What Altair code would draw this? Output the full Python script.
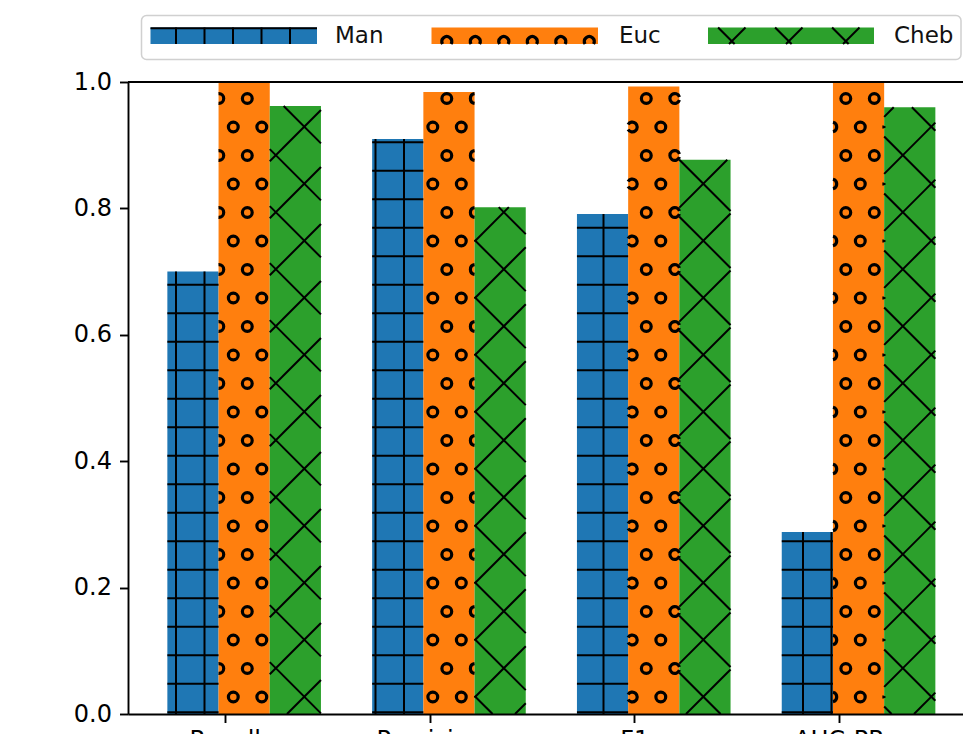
import math
import altair as alt
import pandas as pd

# ---------------- data ----------------
metrics = ["Recall", "Precision", "F1", "AUC-PR"]
series = ["Man", "Euc", "Cheb"]
man = [0.700, 0.910, 0.791, 0.288]
euc = [1.000, 0.984, 0.993, 1.000]
cheb = [0.962, 0.802, 0.877, 0.960]
colors = ["#1f77b4", "#ff7f0e", "#2ca02c"]
hatches = ["+", "o", "x"]
y_ticks = [0.0, 0.2, 0.4, 0.6, 0.8, 1.0]

# ---------------- layout (screen px) ----------------
PLOT_L, PLOT_R, PLOT_T, PLOT_B = 128, 963, 82, 714
SVG_BOTTOM = 734
TICK0, STEP = 224.7, 204.8
X0 = (PLOT_L - TICK0) / STEP
X1 = (PLOT_R - TICK0) / STEP
BAR_W = 0.25
OFFS = [-0.28, -0.03, 0.22]
FONT = "DejaVu Sans"


def sx(v):
    return TICK0 + v * STEP


def xd(px):
    return (px - TICK0) / STEP


def sy(v):
    return PLOT_B - v * (PLOT_B - PLOT_T)


def yd(py):
    return (PLOT_B - py) / (PLOT_B - PLOT_T)


SP = 28.5      # hatch spacing
XSP = 57.0     # 'x' hatch period
RM = 4.8       # circle mid radius

rules = []
rings = []


def add_seg(x1, y1, x2, y2):
    rules.append({"x": xd(x1), "y": yd(y1), "x2": xd(x2), "y2": yd(y2)})


def plus_hatch(L, R, T, B):
    k = math.floor((L - 5) / SP)
    while 5 + k * SP < R:
        x = 5 + k * SP
        if L + 0.5 < x < R - 0.5:
            add_seg(x, T, x, B)
        k += 1
    k = math.floor((T - 28.2) / SP)
    while 28.2 + k * SP < B + 0.6:
        y = 28.2 + k * SP
        if T - 0.2 < y < B + 0.6:
            add_seg(L, y, R, y)
        k += 1


def x_hatch(L, R, T, B):
    k = math.floor((L + T - 32) / XSP) - 1
    while 32 + k * XSP < R + B + XSP:
        c = 32 + k * XSP
        xa, xb = max(L, c - B), min(R, c - T)
        if xb - xa > 0.5:
            add_seg(xa, c - xa, xb, c - xb)
        k += 1
    k = math.floor((L - B - 6.6) / XSP) - 1
    while 6.6 + k * XSP < R - T + XSP:
        c = 6.6 + k * XSP
        xa, xb = max(L, c + T), min(R, c + B)
        if xb - xa > 0.5:
            add_seg(xa, xa - c, xb, xb - c)
        k += 1


def ring_arc(cx, cy, L, R, T, B):
    N = 360
    vis = []
    for i in range(N):
        th = 2 * math.pi * (i + 0.5) / N
        px = cx + RM * math.sin(th)
        py = cy - RM * math.cos(th)
        vis.append(L <= px <= R and T <= py <= B)
    if all(vis):
        return (0.0, 2 * math.pi)
    if not any(vis):
        return None
    best = None
    for i in range(N):
        if vis[i] and not vis[i - 1]:
            j, n = i, 0
            while vis[j % N] and n < N:
                n += 1
                j += 1
            if best is None or n > best[1]:
                best = (i, n)
    s, n = best
    if n < 25:
        return None
    return (2 * math.pi * s / N, 2 * math.pi * (s + n) / N)


def o_hatch(L, R, T, B):
    k = math.floor((T - RM - 13) / SP)
    while 13 + k * SP < B + RM:
        cy = 13 + k * SP
        off = 19.3 if k % 2 else 5.3
        m = math.floor((L - RM - off) / SP)
        while off + m * SP < R + RM:
            cx = off + m * SP
            arc = ring_arc(cx, cy, L, R, T, B)
            if arc:
                rings.append({"x": xd(cx), "y": yd(cy), "t0": arc[0], "t1": arc[1]})
            m += 1
        k += 1


def hatch(kind, L, R, T, B):
    if kind == "+":
        plus_hatch(L, R, T, B)
    elif kind == "o":
        o_hatch(L, R, T, B)
    else:
        x_hatch(L, R, T, B)


# ---------------- bars ----------------
values = [man, euc, cheb]
bar_rows = []
for si, s in enumerate(series):
    for mi, m in enumerate(metrics):
        v = values[si][mi]
        x_a = mi + OFFS[si]
        x_b = x_a + BAR_W
        bar_rows.append({"x": x_a, "x2": x_b, "y": 0.0, "y2": v, "series": s})
        hatch(hatches[si], sx(x_a), sx(x_b), sy(v), sy(0.0))
bars_df = pd.DataFrame(bar_rows)

# ---------------- legend (drawn in data space above the plot) ----------------
LEG_BOX = (141.5, 961, 15.5, 59.5)
LEG_PATCH_X = [(150.5, 317), (431.5, 598), (708, 874)]
LEG_TEXT_X = [335, 619, 894]
LEG_PT, LEG_PB, LEG_TY = 27.5, 44, 36
box_df = pd.DataFrame([{"x": xd(LEG_BOX[0]), "x2": xd(LEG_BOX[1]),
                        "y": yd(LEG_BOX[2]), "y2": yd(LEG_BOX[3])}])
patch_rows, text_rows = [], []
for si, s in enumerate(series):
    L, R = LEG_PATCH_X[si]
    patch_rows.append({"x": xd(L), "x2": xd(R), "y": yd(LEG_PT), "y2": yd(LEG_PB), "series": s})
    hatch(hatches[si], L, R, LEG_PT, LEG_PB)
    text_rows.append({"x": xd(LEG_TEXT_X[si]), "y": yd(LEG_TY), "label": s})
patch_df = pd.DataFrame(patch_rows)
text_df = pd.DataFrame(text_rows)

rules_df = pd.DataFrame(rules)
rings_df = pd.DataFrame(rings)
spine_df = pd.DataFrame([{"x": X0, "x2": X1, "y": 1.0}])

# ---------------- encodings ----------------
label_expr = "[" + ",".join("'%s'" % m for m in metrics) + "][datum.value]"
x_axis = alt.Axis(values=list(range(len(metrics))), labelExpr=label_expr, title=None,
                  grid=False, tickSize=8.5, tickWidth=1.9, tickColor="black",
                  domainWidth=1.9, domainColor="black", labelFont=FONT, labelFontSize=24,
                  labelColor="black", labelPadding=6, labelFlush=False, labelOverlap=False,
                  zindex=1)
y_axis = alt.Axis(values=y_ticks, format=".1f", title=None, grid=False, tickSize=8.5,
                  tickWidth=1.9, tickColor="black", domainWidth=1.9, domainColor="black",
                  labelFont=FONT, labelFontSize=24, labelColor="black", labelPadding=8,
                  labelFlush=False, labelOverlap=False, zindex=1)
x_scale = alt.Scale(domain=[X0, X1], nice=False, zero=False)
y_scale = alt.Scale(domain=[0, 1], nice=False, zero=False)


def X():
    return alt.X("x:Q", scale=x_scale, axis=x_axis)


def Y():
    return alt.Y("y:Q", scale=y_scale, axis=y_axis)


color = alt.Color("series:N", scale=alt.Scale(domain=series, range=colors), legend=None)

bars = alt.Chart(bars_df).mark_rect().encode(x=X(), x2="x2:Q", y=Y(), y2="y2:Q", color=color)
hatch_lines = alt.Chart(rules_df).mark_rule(color="black", strokeWidth=2.0).encode(
    x=X(), x2="x2:Q", y=Y(), y2="y2:Q")
hatch_rings = alt.Chart(rings_df).mark_arc(color="black").encode(
    x=X(), y=Y(),
    theta=alt.Theta("t0:Q", scale=None, stack=None),
    theta2="t1:Q",
    radius=alt.value(RM + 1.7), radius2=alt.value(RM - 1.5))
top_spine = alt.Chart(spine_df).mark_rule(color="black", strokeWidth=1.9).encode(
    x=X(), x2="x2:Q", y=Y())
leg_box = alt.Chart(box_df).mark_rect(fill="white", stroke="#d0d0d0", strokeWidth=1.5,
                                      cornerRadius=5).encode(x=X(), x2="x2:Q", y=Y(), y2="y2:Q")
leg_patch = alt.Chart(patch_df).mark_rect().encode(x=X(), x2="x2:Q", y=Y(), y2="y2:Q", color=color)
leg_text = alt.Chart(text_df).mark_text(align="left", baseline="middle", font=FONT,
                                        fontSize=23, color="#111111").encode(
    x=X(), y=Y(), text="label:N")

chart = alt.layer(bars, leg_box, leg_patch, hatch_lines, hatch_rings, top_spine, leg_text).properties(
    width=PLOT_R - PLOT_L,
    height=PLOT_B - PLOT_T,
    autosize=alt.AutoSizeParams(type="none"),
    padding={"left": PLOT_L - 8, "top": PLOT_T - 8, "right": 0,
             "bottom": SVG_BOTTOM - 8 - PLOT_B + PLOT_T - (PLOT_T - 8)},
).configure_view(strokeOpacity=0).configure(background="white")

chart.save("out.html", embed_options={"renderer": "svg", "actions": False})
